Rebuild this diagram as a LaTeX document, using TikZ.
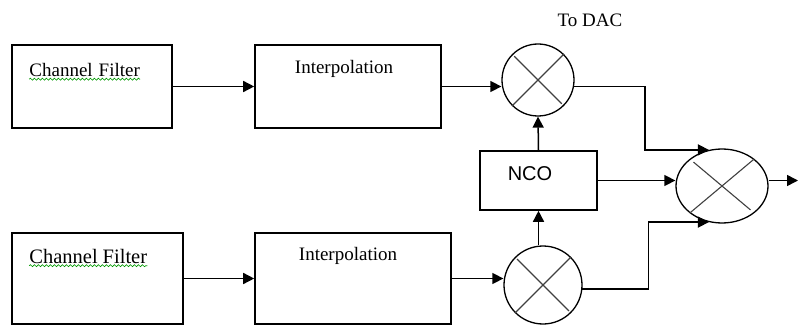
\documentclass[tikz,border=0pt]{standalone}
\usepackage{fontspec}
\setmainfont{Liberation Serif}
\setsansfont{Liberation Sans}
\usetikzlibrary{positioning,arrows.meta,shapes.geometric,decorations.pathmorphing}

\begin{document}
\begin{tikzpicture}[x=1pt,y=-1pt,
  blk/.style={draw,line width=1.6pt,inner sep=0pt},
  mix/.style={draw,circle,line width=1.3pt,inner sep=0pt},
  cross/.style={line width=1.1pt,black!75,shorten <=3pt,shorten >=3pt},
  arr/.style={line width=1.5pt,-{Triangle[length=11pt,width=11pt]}},
  lbl/.style={inner sep=0pt,font=\rmfamily\fontsize{19}{21}\selectfont},
  wavy/.style={green!60!black,line width=0.7pt,decorate,decoration={snake,amplitude=1pt,segment length=4pt}}]
\useasboundingbox (0,0) rectangle (798,326);
% blocks
\node[blk,minimum width=160pt,minimum height=83pt] (cfA) at (92,86.5) {};
\node[blk,minimum width=186pt,minimum height=83pt] (ipA) at (348,86.5) {};
\node[blk,minimum width=171pt,minimum height=91pt] (cfB) at (97.5,278.5) {};
\node[blk,minimum width=196pt,minimum height=91pt] (ipB) at (353,278.5) {};
\node[blk,minimum width=117pt,minimum height=59pt] (nco) at (538.5,180.5) {};
\node[mix,minimum size=72pt] (mixA) at (538,80) {};
\node[mix,minimum size=78pt] (mixB) at (543,285) {};
\node[draw,ellipse,line width=1.3pt,inner sep=0pt,minimum width=92pt,minimum height=74pt] (sum) at (722,186) {};
\coordinate (out) at (798,180.5);
% texts
\node[lbl,anchor=base west] (cfAt) at ([xshift=18pt,yshift=-32pt]cfA.north west) {Channel\hspace{6pt}Filter};
\node[lbl,anchor=base] (ipAt) at ([xshift=-4pt,yshift=-29pt]ipA.north) {Interpolation};
\node[lbl,anchor=base west,font=\rmfamily\fontsize{20.5}{22}\selectfont] (cfBt) at ([xshift=18pt,yshift=-31pt]cfB.north west) {Channel\hspace{5pt}Filter};
\node[lbl,anchor=base] (ipBt) at ([xshift=-5pt,yshift=-28pt]ipB.north) {Interpolation};
\node[lbl,anchor=base,font=\sffamily\fontsize{20}{22}\selectfont] (ncot) at ([xshift=-8.5pt,yshift=-30pt]nco.north) {NCO};
\node[lbl,anchor=base] (dac) at ([xshift=52pt,yshift=17pt]mixA.north) {To DAC};
\draw[wavy] ([yshift=-3pt]cfAt.base west) -- ([yshift=-3pt]cfAt.base east);
\draw[wavy] ([yshift=-2.5pt]cfBt.base west) -- ([yshift=-2.5pt]cfBt.base east);
% crosses
\foreach \m in {mixA,mixB} {
  \draw[cross] (\m.45) -- (\m.225) (\m.135) -- (\m.315);
}
\draw[cross,shorten <=5pt,shorten >=5pt] (sum.40) -- (sum.220) (sum.140) -- (sum.320);
% connectors
\draw[arr] (cfA.east) -- (ipA.west);
\draw[arr] (cfB.east) -- (ipB.west);
\draw[arr] (ipA.east) -- (mixA.west |- ipA.east);
\draw[arr] (ipB.east) -- (mixB.west |- ipB.east);
\draw[arr] (nco.north) -- (mixA.south);
\draw[arr] (mixB.north -| nco.south) -- (nco.south);
\draw[arr] (mixA.-10) -- ++(71,0) |- (sum.110);
\draw[arr] (mixB.-6) -- ++(66,0) |- (sum.-110);
\draw[arr] (nco.east) -- (nco.east -| sum.west);
\draw[arr] (sum.east |- out) -- (out);
\end{tikzpicture}
\end{document}
